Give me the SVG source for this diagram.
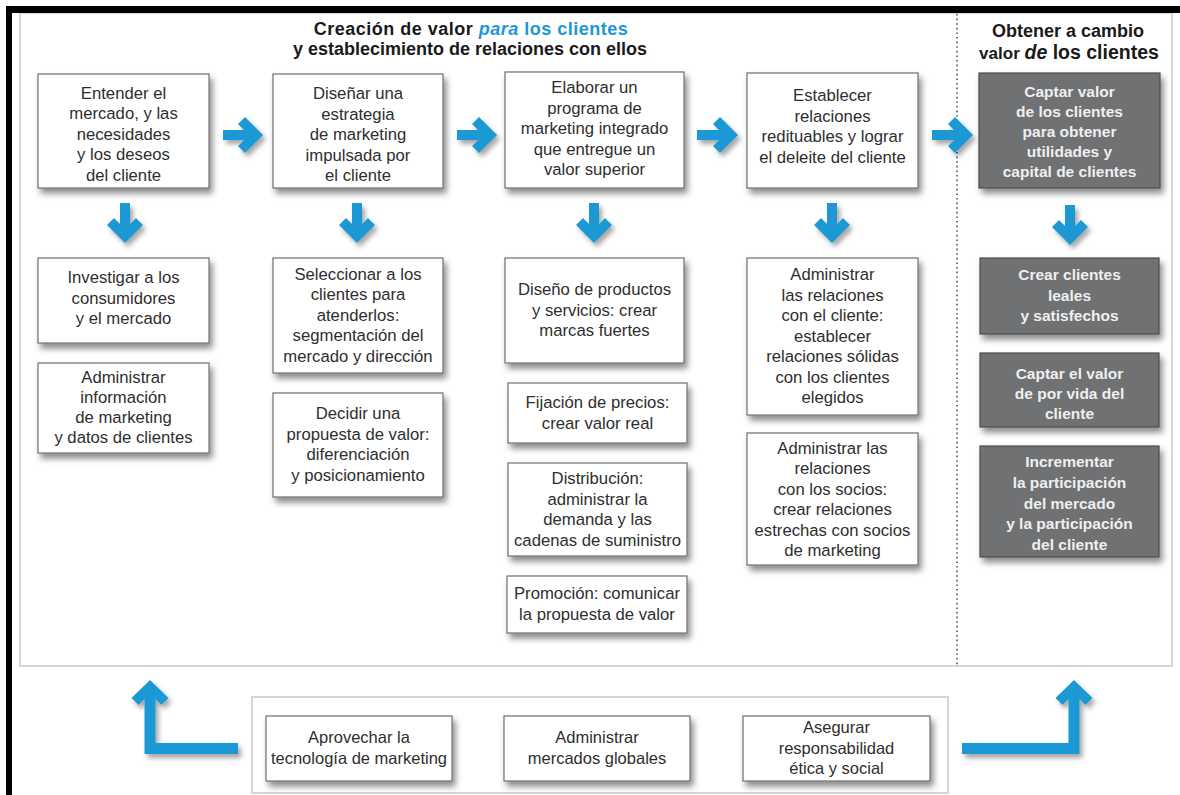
<svg xmlns="http://www.w3.org/2000/svg" width="1180" height="795" viewBox="0 0 1180 795">
<defs>
<filter id="sh" x="-10%" y="-10%" width="125%" height="135%">
<feDropShadow dx="3" dy="5" stdDeviation="3" flood-color="#000" flood-opacity="0.45"/>
</filter>
<filter id="ash" x="-20%" y="-20%" width="150%" height="150%">
<feDropShadow dx="3" dy="4" stdDeviation="2.5" flood-color="#000" flood-opacity="0.35"/>
</filter>
<style>
.box{fill:#fff;stroke:#6e6e6e;stroke-width:1.2;filter:url(#sh)}
.gbox{fill:#707173;stroke:#4c4c4c;stroke-width:1.2;filter:url(#sh)}
.t{font-family:"Liberation Sans",Arial,sans-serif;font-size:16.7px;fill:#2e2e2e;text-anchor:middle}
.tb{font-family:"Liberation Sans",Arial,sans-serif;font-size:16.5px;fill:#2e2e2e;text-anchor:middle}
.gt{font-family:"Liberation Sans",Arial,sans-serif;font-size:15.5px;font-weight:bold;fill:#efefef;text-anchor:middle}
.hd{font-family:"Liberation Sans",Arial,sans-serif;font-size:18px;font-weight:bold;fill:#1a1a1a;text-anchor:middle}
.bl{fill:#1b98d5}
.arr{fill:#1b98d5;filter:url(#ash)}
</style>
</defs>
<rect x="0" y="0" width="1180" height="795" fill="#fff"/>
<!-- frame -->
<rect x="20" y="13" width="1152" height="653" fill="#fff" stroke="#c9c9c9" stroke-width="1.5"/>
<line x1="957" y1="14" x2="957" y2="665" stroke="#555" stroke-width="1.6" stroke-dasharray="1.6 3"/>
<rect x="6" y="6" width="1174" height="7" fill="#000"/>
<rect x="6" y="6" width="6" height="789" fill="#000"/>
<rect x="252" y="697" width="696" height="96" fill="#fff" stroke="#c9c9c9" stroke-width="1.5"/>

<!-- headings -->
<g id="heading-left">
<text class="hd" x="471" y="35" letter-spacing="0.5">Creación de valor <tspan class="bl" font-style="italic">para</tspan><tspan class="bl"> los clientes</tspan></text>
<text class="hd" x="470" y="55">y establecimiento de relaciones con ellos</text>
</g>
<g id="heading-right">
<text class="hd" x="1068" y="37" font-size="17.5">Obtener a cambio</text>
<text class="hd" x="1069" y="59"><tspan font-size="17">valor </tspan><tspan font-style="italic" font-size="19.5">de</tspan><tspan font-size="19.5"> los clientes</tspan></text>
</g>

<!-- connectors -->
<g id="connectors">
<path class="arr" d="M223,130 H244 L238,124 L245,117 L263,135 L245,153 L238,146 L244,140 H223 Z"/>
<path class="arr" d="M457,130 H478 L472,124 L479,117 L497,135 L479,153 L472,146 L478,140 H457 Z"/>
<path class="arr" d="M697,130 H719 L713,124 L720,117 L738,135 L720,153 L713,146 L719,140 H697 Z"/>
<path class="arr" d="M932,130 H954 L948,124 L955,117 L973,135 L955,153 L948,146 L954,140 H932 Z"/>
<path class="arr" d="M120,203 H130 V224 L136,218 L143,225 L125,243 L107,225 L114,218 L120,224 Z"/>
<path class="arr" d="M352,203 H362 V224 L368,218 L375,225 L357,243 L339,225 L346,218 L352,224 Z"/>
<path class="arr" d="M589,203 H599 V224 L605,218 L612,225 L594,243 L576,225 L583,218 L589,224 Z"/>
<path class="arr" d="M827,203 H837 V224 L843,218 L850,225 L832,243 L814,225 L821,218 L827,224 Z"/>
<path class="arr" d="M1065,205 H1075 V226 L1081,220 L1088,227 L1070,245 L1052,227 L1059,220 L1065,226 Z"/>
<path class="arr" d="M155.5,699 L161.5,705 L168.5,698 L150,680 L131.5,698 L138.5,705 L144.5,699 V754 H238 V743 H155.5 Z"/>
<path class="arr" d="M962,743 H1068.5 V699 L1062.5,705 L1055.5,698 L1074,680 L1092.5,698 L1085.5,705 L1079.5,699 V754 H962 Z"/>
</g>

<!-- row 1 -->
<g id="n1"><rect class="box" x="38" y="74" width="171" height="114"/>
<text class="t" x="123.5" y="98.5">Entender el</text><text class="t" x="123.5" y="119">mercado, y las</text><text class="t" x="123.5" y="139.5">necesidades</text><text class="t" x="123.5" y="160">y los deseos</text><text class="t" x="123.5" y="180.5">del cliente</text></g>
<g id="n2"><rect class="box" x="273" y="74" width="170" height="114"/>
<text class="t" x="358" y="99">Diseñar una</text><text class="t" x="358" y="119.5">estrategia</text><text class="t" x="358" y="140">de marketing</text><text class="t" x="358" y="160.5">impulsada por</text><text class="t" x="358" y="181">el cliente</text></g>
<g id="n3"><rect class="box" x="505" y="72" width="179" height="116"/>
<text class="t" x="594.5" y="93">Elaborar un</text><text class="t" x="594.5" y="113.5">programa de</text><text class="t" x="594.5" y="134">marketing integrado</text><text class="t" x="594.5" y="154.5">que entregue un</text><text class="t" x="594.5" y="175">valor superior</text></g>
<g id="n4"><rect class="box" x="747" y="73" width="171" height="115"/>
<text class="t" x="832.5" y="101">Establecer</text><text class="t" x="832.5" y="121.5">relaciones</text><text class="t" x="832.5" y="142">redituables y lograr</text><text class="t" x="832.5" y="162.5">el deleite del cliente</text></g>
<g id="n5"><rect class="gbox" x="979" y="73" width="181" height="115"/>
<text class="gt" x="1069.5" y="97">Captar valor</text><text class="gt" x="1069.5" y="117">de los clientes</text><text class="gt" x="1069.5" y="137">para obtener</text><text class="gt" x="1069.5" y="157">utilidades y</text><text class="gt" x="1069.5" y="177">capital de clientes</text></g>

<!-- column 1 -->
<g id="n6"><rect class="box" x="38" y="258" width="171" height="85"/>
<text class="t" x="123.5" y="283">Investigar a los</text><text class="t" x="123.5" y="303.5">consumidores</text><text class="t" x="123.5" y="324">y el mercado</text></g>
<g id="n7"><rect class="box" x="38" y="363" width="171" height="90"/>
<text class="t" x="123.5" y="383">Administrar</text><text class="t" x="123.5" y="403">información</text><text class="t" x="123.5" y="423">de marketing</text><text class="t" x="123.5" y="443">y datos de clientes</text></g>

<!-- column 2 -->
<g id="n8"><rect class="box" x="273" y="258" width="170" height="115"/>
<text class="t" x="358" y="279.5">Seleccionar a los</text><text class="t" x="358" y="300">clientes para</text><text class="t" x="358" y="320.5">atenderlos:</text><text class="t" x="358" y="341">segmentación del</text><text class="t" x="358" y="361.5">mercado y dirección</text></g>
<g id="n9"><rect class="box" x="273" y="393" width="170" height="104"/>
<text class="t" x="358" y="419">Decidir una</text><text class="t" x="358" y="439.5">propuesta de valor:</text><text class="t" x="358" y="460">diferenciación</text><text class="t" x="358" y="480.5">y posicionamiento</text></g>

<!-- column 3 -->
<g id="n10"><rect class="box" x="505" y="258" width="179" height="105"/>
<text class="t" x="594.5" y="295">Diseño de productos</text><text class="t" x="594.5" y="315.5">y servicios: crear</text><text class="t" x="594.5" y="336">marcas fuertes</text></g>
<g id="n11"><rect class="box" x="508" y="383" width="179" height="60"/>
<text class="t" x="597.5" y="408">Fijación de precios:</text><text class="t" x="597.5" y="428.5">crear valor real</text></g>
<g id="n12"><rect class="box" x="508" y="463" width="179" height="93"/>
<text class="t" x="597.5" y="484">Distribución:</text><text class="t" x="597.5" y="504.5">administrar la</text><text class="t" x="597.5" y="525">demanda y las</text><text class="t" x="597.5" y="545.5">cadenas de suministro</text></g>
<g id="n13"><rect class="box" x="507" y="576" width="180" height="57"/>
<text class="t" x="597" y="599">Promoción: comunicar</text><text class="t" x="597" y="619.5">la propuesta de valor</text></g>

<!-- column 4 -->
<g id="n14"><rect class="box" x="747" y="258" width="171" height="157"/>
<text class="t" x="832.5" y="280">Administrar</text><text class="t" x="832.5" y="300.5">las relaciones</text><text class="t" x="832.5" y="321">con el cliente:</text><text class="t" x="832.5" y="341.5">establecer</text><text class="t" x="832.5" y="362">relaciones sólidas</text><text class="t" x="832.5" y="382.5">con los clientes</text><text class="t" x="832.5" y="403">elegidos</text></g>
<g id="n15"><rect class="box" x="747" y="433" width="171" height="132"/>
<text class="t" x="832.5" y="453.5">Administrar las</text><text class="t" x="832.5" y="474">relaciones</text><text class="t" x="832.5" y="494.5">con los socios:</text><text class="t" x="832.5" y="515">crear relaciones</text><text class="t" x="832.5" y="535.5">estrechas con socios</text><text class="t" x="832.5" y="556">de marketing</text></g>

<!-- column 5 -->
<g id="n16"><rect class="gbox" x="980" y="258" width="179" height="76"/>
<text class="gt" x="1069.5" y="280">Crear clientes</text><text class="gt" x="1069.5" y="300.5">leales</text><text class="gt" x="1069.5" y="321">y satisfechos</text></g>
<g id="n17"><rect class="gbox" x="980" y="353" width="179" height="74"/>
<text class="gt" x="1069.5" y="379">Captar el valor</text><text class="gt" x="1069.5" y="399">de por vida del</text><text class="gt" x="1069.5" y="419">cliente</text></g>
<g id="n18"><rect class="gbox" x="980" y="446" width="179" height="111"/>
<text class="gt" x="1069.5" y="467">Incrementar</text><text class="gt" x="1069.5" y="487.75">la participación</text><text class="gt" x="1069.5" y="508.5">del mercado</text><text class="gt" x="1069.5" y="529.25">y la participación</text><text class="gt" x="1069.5" y="550">del cliente</text></g>

<!-- bottom -->
<g id="n19"><rect class="box" x="266" y="716" width="186" height="65"/>
<text class="tb" x="359" y="743">Aprovechar la</text><text class="tb" x="359" y="764">tecnología de marketing</text></g>
<g id="n20"><rect class="box" x="504" y="716" width="186" height="65"/>
<text class="tb" x="597" y="743">Administrar</text><text class="tb" x="597" y="764">mercados globales</text></g>
<g id="n21"><rect class="box" x="743" y="716" width="187" height="65"/>
<text class="tb" x="836.5" y="733">Asegurar</text><text class="tb" x="836.5" y="753.5">responsabilidad</text><text class="tb" x="836.5" y="774">ética y social</text></g>
</svg>
